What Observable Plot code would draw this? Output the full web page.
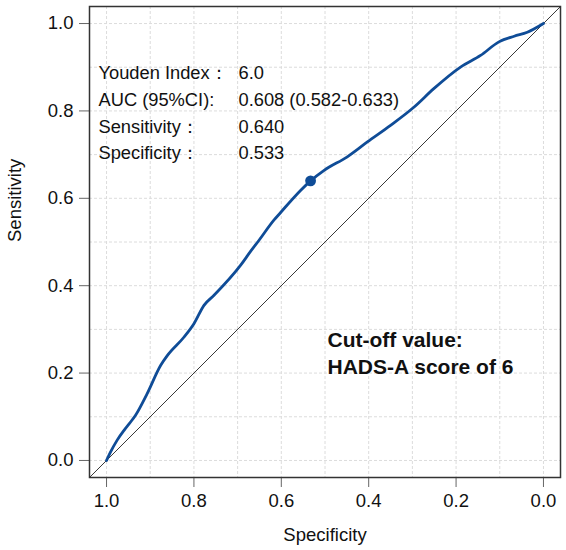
<!DOCTYPE html>
<html>
<head>
<meta charset="utf-8">
<script src="https://cdn.jsdelivr.net/npm/d3@7"></script>
<script src="https://cdn.jsdelivr.net/npm/@observablehq/plot@0.6"></script>
<style>
  html, body { margin: 0; padding: 0; background: #fff; }
  #chart svg { display: block; font-family: "Liberation Sans", Arial, sans-serif; }
</style>
</head>
<body>
<div id="chart"></div>
<script>
// ROC curve: specificity (reversed) vs sensitivity
const specificity = [1.000, 0.991, 0.976, 0.960, 0.945, 0.934, 0.907, 0.876, 0.861, 0.823,
  0.800, 0.777, 0.754, 0.693, 0.670, 0.651, 0.617, 0.602, 0.556, 0.533, 0.502, 0.449,
  0.403, 0.350, 0.296, 0.251, 0.189, 0.144, 0.102, 0.067, 0.037, 0.000];
const sensitivity = [0.000, 0.019, 0.046, 0.069, 0.088, 0.103, 0.153, 0.218, 0.240, 0.282,
  0.313, 0.355, 0.378, 0.447, 0.479, 0.504, 0.550, 0.567, 0.618, 0.640, 0.664, 0.695,
  0.729, 0.767, 0.809, 0.851, 0.901, 0.927, 0.958, 0.971, 0.980, 1.000];

// Optimal cut-off (Youden)
const cutoffSpec = 0.533;
const cutoffSens = 0.640;

const statLabels = ["Youden Index：", "AUC (95%CI):", "Sensitivity：", "Specificity："];
const statValues = ["6.0", "0.608 (0.582-0.633)", "0.640", "0.533"];
const cutoffNote = ["Cut-off value:", "HADS-A score of 6"];

const ticks = [1.0, 0.8, 0.6, 0.4, 0.2, 0.0];
const gridTicks = d3.range(0, 11).map(i => i / 10);

const roc = specificity.map((s, i) => ({spec: s, sens: sensitivity[i]}));
const lo = -0.039, hi = 1.039;

const textStyle = {frameAnchor: "top-left", textAnchor: "start", lineAnchor: "middle", fill: "#111"};

// one text mark per line of the statistics block
const statMarks = statLabels.flatMap((label, i) => [
  Plot.text([label], {...textStyle, dx: 9, dy: 67 + i * 26.7, fontSize: 18.3}),
  Plot.text([statValues[i]], {...textStyle, dx: 149, dy: 67 + i * 26.7, fontSize: 18.3})
]);
const noteMarks = cutoffNote.map((line, i) =>
  Plot.text([line], {...textStyle, dx: 238, dy: 334 + i * 27, fontSize: 21, fontWeight: "bold"})
);

const chart = Plot.plot({
  width: 566,
  height: 550,
  marginLeft: 89,
  marginRight: 6,
  marginTop: 6,
  marginBottom: 73,
  x: {domain: [hi, lo]},
  y: {domain: [lo, hi]},
  marks: [
    // dashed grid every 0.1
    Plot.ruleX(gridTicks, {stroke: "#dcdcdc", strokeWidth: 1, strokeDasharray: "3,2"}),
    Plot.ruleY(gridTicks, {stroke: "#dcdcdc", strokeWidth: 1, strokeDasharray: "3,2"}),
    // chance line across the whole panel
    Plot.line([{spec: hi, sens: lo}, {spec: lo, sens: hi}],
      {x: "spec", y: "sens", stroke: "#222", strokeWidth: 0.9}),
    // ROC curve
    Plot.line(roc, {x: "spec", y: "sens", stroke: "#0f4c97", strokeWidth: 2.8, curve: "monotone-x"}),
    Plot.dot([{spec: cutoffSpec, sens: cutoffSens}],
      {x: "spec", y: "sens", r: 5.4, fill: "#0f4c97", stroke: "none"}),
    // axes
    Plot.axisX(ticks, {tickSize: 10, tickPadding: 6, stroke: "#666", fontSize: 18.5, fill: "#111",
      tickFormat: d3.format(".1f"), label: null}),
    Plot.axisY(ticks, {tickSize: 10, tickPadding: 6, stroke: "#666", fontSize: 18.5, fill: "#111",
      tickFormat: d3.format(".1f"), label: null}),
    Plot.frame({stroke: "#333", strokeWidth: 1.5}),
    // axis titles
    Plot.text(["Specificity"], {frameAnchor: "bottom", dy: 58, fontSize: 18.5, fill: "#111", lineAnchor: "middle"}),
    Plot.text(["Sensitivity"], {frameAnchor: "left", dx: -74, rotate: -90, fontSize: 18.5, fill: "#111", lineAnchor: "middle"}),
    ...statMarks,
    ...noteMarks
  ]
});

document.getElementById("chart").appendChild(chart);
</script>
</body>
</html>
